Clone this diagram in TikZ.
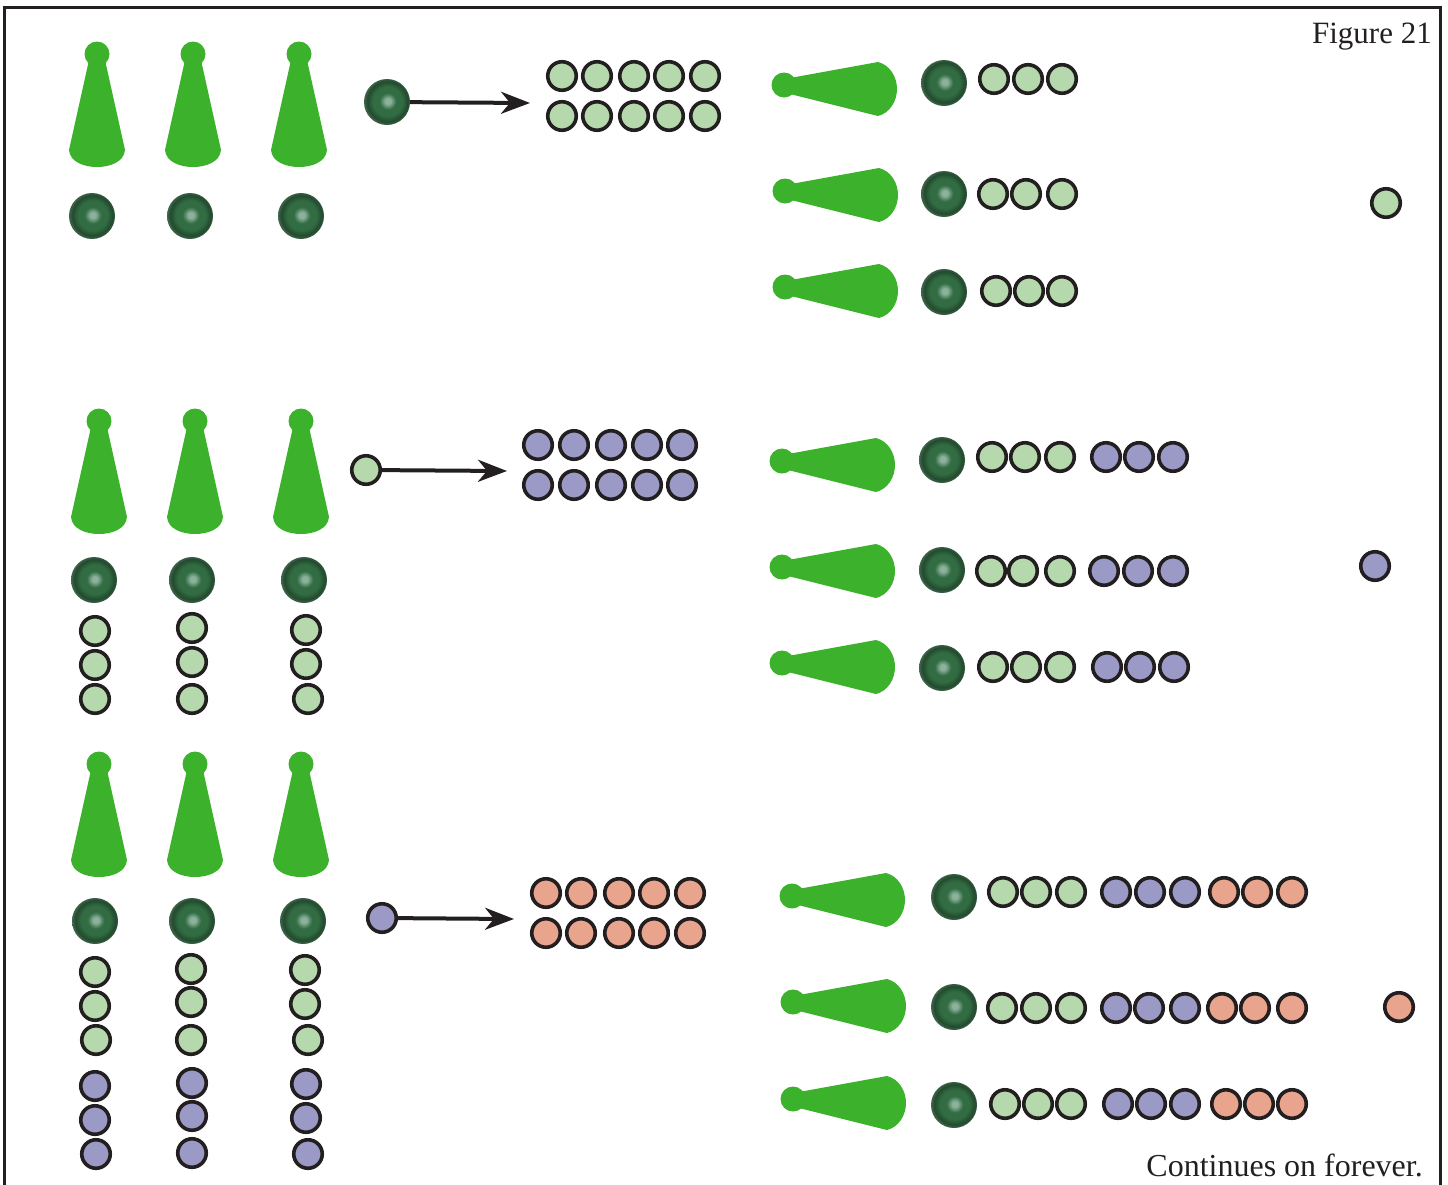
\documentclass[tikz,border=0pt]{standalone}
\usepackage{fontspec}
\setmainfont{Liberation Serif}
\usepackage{tikz}
\usetikzlibrary{arrows.meta}

\definecolor{inkline}{RGB}{35,31,32}
\definecolor{pawngreen}{RGB}{60,178,44}
\definecolor{ballgreen}{RGB}{181,217,172}
\definecolor{ballpurple}{RGB}{155,154,198}
\definecolor{ballorange}{RGB}{232,164,140}
\definecolor{beadhi}{RGB}{140,178,156}
\definecolor{beadmid}{RGB}{50,108,66}
\definecolor{beaddark}{RGB}{34,74,46}
\definecolor{beadrim}{RGB}{62,98,72}

\pgfdeclareradialshading{beadshade}{\pgfpoint{1bp}{1bp}}{%
  color(0bp)=(beadhi); color(3bp)=(beadhi); color(9bp)=(beadmid);
  color(16bp)=(beadmid); color(22bp)=(beaddark); color(25bp)=(beadrim);
  color(50bp)=(beadrim)}

\tikzstyle{gball} = [circle, minimum size=28.5, inner sep=0, draw=inkline,
    line width=3.6, fill=ballgreen]
\tikzstyle{pball} = [gball, fill=ballpurple]
\tikzstyle{oball} = [gball, fill=ballorange]
\tikzstyle{bead} = [circle, minimum size=46, inner sep=0, shading=beadshade]
\tikzstyle{arrow} = [line width=4, draw=inkline,
    -{Stealth[length=29, width=22, inset=9]}]
\tikzstyle{caption} = [anchor=base east, inner sep=0, text=inkline]

% upright and lying pawns
\tikzset{
  standpawn/.pic={
    \fill[pawngreen] (0,0) circle (12.5);
    \fill[pawngreen] (-8,6) -- (-28,96) .. controls (-27,108) and (-13,113) .. (0,113)
        .. controls (13,113) and (27,108) .. (28,96) -- (8,6) -- cycle;
  },
  liepawn/.pic={
    \fill[pawngreen] (0,0) circle (12.5);
    \fill[pawngreen] (6,-7) -- (94,-23) .. controls (106,-20) and (113,-8) .. (113,4)
        .. controls (113,16) and (106,28) .. (94,31) -- (6,9) -- cycle;
  }
}

\begin{document}
\begin{tikzpicture}[x=1pt, y=-1pt]
  \useasboundingbox (0,0) rectangle (1448,1184);
  \draw[inkline, line width=3] (4.5,1190) -- (4.5,7.5) -- (1440,7.5) -- (1440,1190);

  \node (figlabel) [caption, font=\fontsize{31}{37}\selectfont] at (1432,43) {Figure 21};
  \node (endlabel) [caption, font=\fontsize{32}{38}\selectfont] at (1423,1176) {Continues on forever.};

  % first stage
  \foreach \x/\b [count=\i] in {97/92, 193/190, 299/301} {
    \pic (pa\i) at (\x,54) {standpawn};
    \node (ba\i) [bead] at (\b,216) {};
  }
  \node (srcA) [bead] at (387,102) {};
  \coordinate (endA) at (530,103);
  \draw [arrow] (srcA) -- (endA);
  \foreach \x [count=\i] in {562,597,634,669,705} {
    \node (gridA1\i) [gball] at (\x,76) {};
    \node (gridA2\i) [gball] at (\x,116) {};
  }
  \foreach \px/\py/\by/\gy/\ga/\gb [count=\r] in
      {784/85/83/79/994/1028, 785/191/194/194/993/1026, 785/287/292/291/996/1029} {
    \pic (la\r) at (\px,\py) {liepawn};
    \node (da\r) [bead] at (944,\by) {};
    \node (ga\r1) [gball] at (\ga,\gy) {};
    \node (ga\r2) [gball] at (\gb,\gy) {};
    \node (ga\r3) [gball] at (1062,\gy) {};
  }
  \node (restA) [gball] at (1386,203) {};

  % second stage
  \foreach \x/\b [count=\i] in {99/94, 195/192, 301/304} {
    \pic (pb\i) at (\x,421) {standpawn};
    \node (bb\i) [bead] at (\b,580) {};
  }
  \foreach \y [count=\j] in {631,665,699} \node (cb1\j) [gball] at (95,\y) {};
  \foreach \y [count=\j] in {628,662,699} \node (cb2\j) [gball] at (192,\y) {};
  \foreach \x/\y [count=\j] in {306/630,306/664,308/699} \node (cb3\j) [gball] at (\x,\y) {};
  \node (srcB) [gball] at (366,470) {};
  \coordinate (endB) at (507,471);
  \draw [arrow] (srcB) -- (endB);
  \foreach \x [count=\i] in {538,574,611,647,682} {
    \node (gridB1\i) [pball] at (\x,445) {};
    \node (gridB2\i) [pball] at (\x,485) {};
  }
  \foreach \py/\by/\y/\ga/\gb/\pa/\pb/\pc [count=\r] in
      {461/460/457/992/1025/1106/1139/1173,
       567/570/571/991/1023/1104/1138/1173,
       663/668/667/993/1026/1107/1140/1174} {
    \pic (lb\r) at (782,\py) {liepawn};
    \node (db\r) [bead] at (942,\by) {};
    \node (gb\r1) [gball] at (\ga,\y) {};
    \node (gb\r2) [gball] at (\gb,\y) {};
    \node (gb\r3) [gball] at (1060,\y) {};
    \node (vb\r1) [pball] at (\pa,\y) {};
    \node (vb\r2) [pball] at (\pb,\y) {};
    \node (vb\r3) [pball] at (\pc,\y) {};
  }
  \node (restB) [pball] at (1375,566) {};

  % third stage
  \foreach \x/\b [count=\i] in {99/95, 195/192, 301/303} {
    \pic (pc\i) at (\x,764) {standpawn};
    \node (bc\i) [bead] at (\b,921) {};
  }
  \foreach \x/\y [count=\j] in {95/972,95/1006,96/1040} \node (cc1\j) [gball] at (\x,\y) {};
  \foreach \x/\y [count=\j] in {191/969,191/1002,191/1040} \node (cc2\j) [gball] at (\x,\y) {};
  \foreach \x/\y [count=\j] in {305/970,305/1004,308/1040} \node (cc3\j) [gball] at (\x,\y) {};
  \foreach \x/\y [count=\j] in {95/1086,95/1120,96/1154} \node (uc1\j) [pball] at (\x,\y) {};
  \foreach \x/\y [count=\j] in {192/1083,192/1116,192/1153} \node (uc2\j) [pball] at (\x,\y) {};
  \foreach \x/\y [count=\j] in {306/1084,306/1118,308/1154} \node (uc3\j) [pball] at (\x,\y) {};
  \node (srcC) [pball] at (382,918) {};
  \coordinate (endC) at (514,919);
  \draw [arrow] (srcC) -- (endC);
  \foreach \x [count=\i] in {546,581,619,654,690} {
    \node (gridC1\i) [oball] at (\x,893) {};
    \node (gridC2\i) [oball] at (\x,933) {};
  }
  \foreach \px/\py/\by/\y/\ga/\gb/\pa/\pb/\oa/\ob [count=\r] in
      {792/896/897/892/1003/1036/1116/1150/1224/1257,
       793/1002/1007/1008/1002/1036/1116/1149/1222/1255,
       793/1099/1105/1104/1005/1038/1118/1151/1226/1259} {
    \pic (lc\r) at (\px,\py) {liepawn};
    \node (dc\r) [bead] at (954,\by) {};
    \node (gc\r1) [gball] at (\ga,\y) {};
    \node (gc\r2) [gball] at (\gb,\y) {};
    \node (gc\r3) [gball] at (1071,\y) {};
    \node (vc\r1) [pball] at (\pa,\y) {};
    \node (vc\r2) [pball] at (\pb,\y) {};
    \node (vc\r3) [pball] at (1185,\y) {};
    \node (oc\r1) [oball] at (\oa,\y) {};
    \node (oc\r2) [oball] at (\ob,\y) {};
    \node (oc\r3) [oball] at (1292,\y) {};
  }
  \node (restC) [oball] at (1399,1007) {};
\end{tikzpicture}
\end{document}
